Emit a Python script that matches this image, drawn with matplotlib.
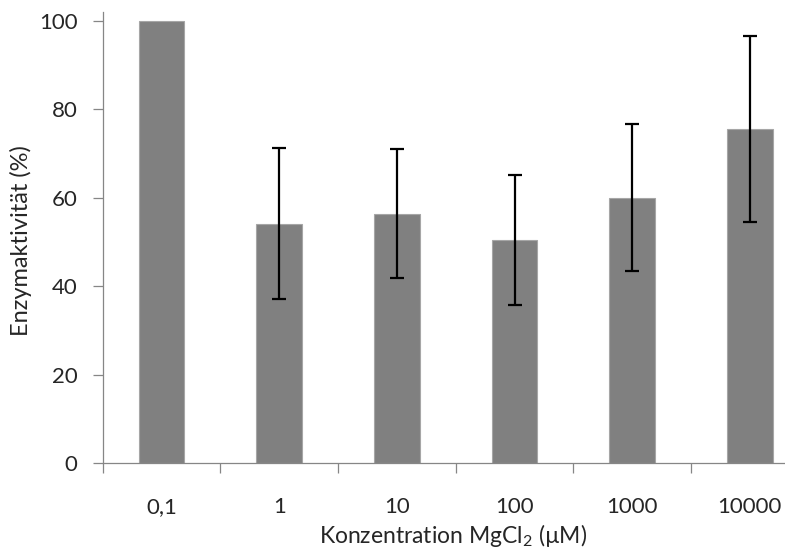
import numpy as np
import matplotlib
matplotlib.use("Agg")
import matplotlib.pyplot as plt

plt.rcParams['font.family'] = ['Lato', 'DejaVu Sans']
plt.rcParams['mathtext.fontset'] = 'custom'
plt.rcParams['mathtext.rm'] = 'Lato'
plt.rcParams['mathtext.it'] = 'Lato:italic'

# data
categories = ['0,1', '1', '10', '100', '1000', '10000']
activity = [100, 54.1, 56.4, 50.4, 60.0, 75.5]
errors = [0, 17.1, 14.5, 14.6, 16.6, 21.0]

axis_grey = '#868686'
text_col = '#262626'

fig = plt.figure(figsize=(7.85, 5.51), dpi=100)
ax = fig.add_axes([0.1308, 0.1592, 0.8994, 0.8196])

x = np.arange(len(categories))
ax.bar(x, activity, width=0.39, color='#808080', edgecolor='#a6a6a6', linewidth=0.8, zorder=2)

idx = [i for i, e in enumerate(errors) if e > 0]
ax.errorbar(x[idx], [activity[i] for i in idx], yerr=[errors[i] for i in idx],
            fmt='none', ecolor='black', elinewidth=1.6, capsize=4.7, capthick=1.6, zorder=3)

ax.set_xlim(-0.5, len(categories) - 0.5)
ax.set_ylim(0, 102)
ax.set_yticks([0, 20, 40, 60, 80, 100])

# category boundary ticks, labels centred between them
ax.set_xticks(np.arange(len(categories) + 1) - 0.5)
ax.set_xticklabels([])
ax.set_xticks(x, minor=True)
ax.set_xticklabels(categories, minor=True)
ax.tick_params(axis='x', which='major', length=7, width=0.9, color=axis_grey, direction='out')
ax.tick_params(axis='x', which='minor', length=0, pad=24, labelsize=16, labelcolor=text_col)
ax.tick_params(axis='y', length=7, width=0.9, color=axis_grey, direction='out', pad=11,
               labelsize=16, labelcolor=text_col)

for s in ['top', 'right']:
    ax.spines[s].set_visible(False)
for s in ['left', 'bottom']:
    ax.spines[s].set_color(axis_grey)
    ax.spines[s].set_linewidth(0.9)

ax.set_xlabel('Konzentration MgCl$_2$ (µM)', fontsize=16.5, color=text_col)
ax.xaxis.set_label_coords(0.497, -0.131)
ax.set_ylabel('Enzymaktivität (%)', fontsize=17, color=text_col)
ax.yaxis.set_label_coords(-0.1, 0.494)

fig.savefig('out.png', dpi=100)
